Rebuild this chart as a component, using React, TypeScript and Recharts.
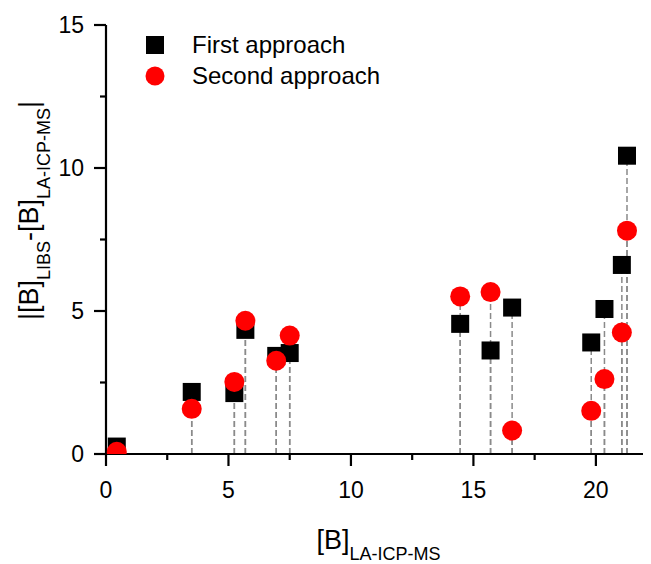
import { ScatterChart, Scatter, XAxis, YAxis, ErrorBar, Legend } from 'recharts';

const concLaIcpMs = [0.44, 3.5, 5.24, 5.69, 6.95, 7.5, 14.46, 15.7, 16.58, 19.81, 20.35, 21.06, 21.27];
const firstApproach = [0.26, 2.17, 2.13, 4.34, 3.43, 3.53, 4.55, 3.62, 5.12, 3.9, 5.07, 6.61, 10.43];
const secondApproach = [0.08, 1.58, 2.52, 4.66, 3.26, 4.14, 5.51, 5.66, 0.82, 1.51, 2.62, 4.25, 7.81];
const xTicks = [0, 2.5, 5, 7.5, 10, 12.5, 15, 17.5, 20];
const yTicks = [0, 2.5, 5, 7.5, 10, 12.5, 15];
const seriesNames = ['First approach', 'Second approach'];

const font = '"Liberation Sans", Arial, sans-serif';

// drop = [down to zero, nothing up] for the drop lines
const firstData = concLaIcpMs.map((x, i) => ({ x, y: firstApproach[i], drop: [firstApproach[i], 0] }));
const secondData = concLaIcpMs.map((x, i) => ({ x, y: secondApproach[i], drop: [secondApproach[i], 0] }));

function YTick({ x, y, payload }: any) {
  const major = payload.value % 5 === 0;
  return (
    <g>
      <line x1={x - (major ? 12 : 6)} x2={x} y1={y} y2={y} stroke="#000" strokeWidth={2.2} />
      {major && (
        <text x={x - 22} y={y + 8} textAnchor="end" fontSize={23} fontFamily={font} fill="#000">
          {payload.value}
        </text>
      )}
    </g>
  );
}

function XTick({ x, y, payload }: any) {
  const major = payload.value % 5 === 0;
  return (
    <g>
      <line x1={x} x2={x} y1={y} y2={y + (major ? 12 : 6)} stroke="#000" strokeWidth={2.2} />
      {major && (
        <text x={x} y={y + 44} textAnchor="middle" fontSize={23} fontFamily={font} fill="#000">
          {payload.value}
        </text>
      )}
    </g>
  );
}

function YTitle({ viewBox }: any) {
  const cy = viewBox.y + viewBox.height / 2 - 29;
  return (
    <text transform={`translate(30,${cy}) rotate(-90)`} textAnchor="middle" fontFamily={font} fill="#000">
      <tspan fontSize={27}>|[B]</tspan>
      <tspan fontSize={18} dy={12}>LIBS</tspan>
      <tspan fontSize={27} dy={-12}>-[B]</tspan>
      <tspan fontSize={18} dy={12}>LA-ICP-MS</tspan>
      <tspan fontSize={27} dy={-12}>|</tspan>
    </text>
  );
}

function XTitle({ viewBox }: any) {
  return (
    <text x={viewBox.x + viewBox.width / 2} y={viewBox.y + 95} textAnchor="middle" fontFamily={font} fill="#000">
      <tspan fontSize={27}>[B]</tspan>
      <tspan fontSize={18} dy={11}>LA-ICP-MS</tspan>
    </text>
  );
}

const Square = (p: any) => <rect x={p.cx - 9} y={p.cy - 9} width={18} height={18} fill="#000" />;
const Dot = (p: any) => <circle cx={p.cx} cy={p.cy} r={10} fill="#ff0000" />;

function LegendBox() {
  return (
    <div style={{ fontFamily: font, fontSize: 24, color: '#000' }}>
      {seriesNames.map((name, i) => (
        <div key={name} style={{ display: 'flex', alignItems: 'center', height: 30.5 }}>
          <svg width={20} height={20}>
            {i === 0 ? <rect x={1} y={1} width={18} height={18} fill="#000" /> : <circle cx={10} cy={10} r={9.5} fill="#ff0000" />}
          </svg>
          <span style={{ marginLeft: 27, lineHeight: 1 }}>{name}</span>
        </div>
      ))}
    </div>
  );
}

const dropStyle = { stroke: '#8a8a8a', strokeWidth: 1.5, strokeDasharray: '6 3' };

export default function App() {
  return (
    <ScatterChart width={643} height={556} margin={{ top: 17, right: 0, bottom: 0, left: 0 }}>
      <XAxis
        type="number"
        dataKey="x"
        domain={[0, 22.25]}
        ticks={xTicks}
        allowDataOverflow
        height={110}
        tickSize={0}
        tickMargin={0}
        tickLine={false}
        tick={<XTick />}
        stroke="#000"
        strokeWidth={2.2}
        axisLine={{ stroke: '#000', strokeWidth: 2.2 }}
        label={<XTitle />}
      />
      <YAxis
        type="number"
        dataKey="y"
        domain={[0, 15]}
        ticks={yTicks}
        allowDataOverflow
        width={98}
        tickSize={0}
        tickMargin={0}
        tickLine={false}
        tick={<YTick />}
        stroke="#000"
        strokeWidth={2.2}
        axisLine={{ stroke: '#000', strokeWidth: 2.2 }}
        label={<YTitle />}
      />
      <Legend
        layout="horizontal"
        verticalAlign="middle"
        align="center"
        content={<LegendBox />}
        wrapperStyle={{ left: 137, top: 22, width: 'auto', height: 'auto' }}
      />
      <Scatter name={seriesNames[0]} data={firstData} shape={Square} isAnimationActive={false}>
        <ErrorBar dataKey="drop" direction="y" width={0} {...dropStyle} isAnimationActive={false} />
      </Scatter>
      <Scatter name={seriesNames[1]} data={secondData} shape={Dot} isAnimationActive={false}>
        <ErrorBar dataKey="drop" direction="y" width={0} {...dropStyle} isAnimationActive={false} />
      </Scatter>
    </ScatterChart>
  );
}
